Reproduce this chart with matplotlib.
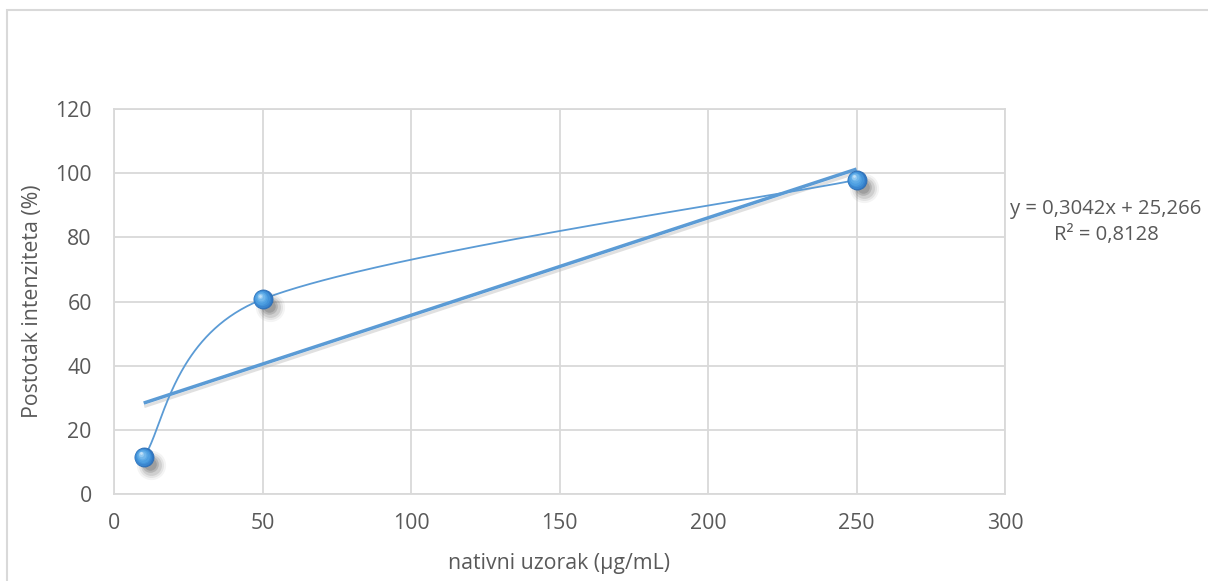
import numpy as np
import matplotlib
matplotlib.use("Agg")
import matplotlib.pyplot as plt
from matplotlib.transforms import offset_copy
from matplotlib.patches import Rectangle

# ---- data ----
x_vals = [10, 50, 250]
y_vals = [11.5, 60.7, 97.9]
x_ticks = [0, 50, 100, 150, 200, 250, 300]
y_ticks = [0, 20, 40, 60, 80, 100, 120]
x_label = "nativni uzorak (µg/mL)"
y_label = "Postotak intenziteta (%)"
eq_text = "y = 0,3042x + 25,266\nR² = 0,8128"

W, H = 1208, 581
fig = plt.figure(figsize=(W / 100, H / 100), dpi=100)
plt.rcParams['font.family'] = ['Open Sans', 'DejaVu Sans']
txt_color = '#595959'
grid_color = '#d9d9d9'
blue = '#5b9bd5'
fs = 15.3

# outer chart border (extends beyond the crop on right/bottom)
fig.patches.append(Rectangle((7 / W, -0.1), 1.2, (1 - 10 / H) + 0.1, transform=fig.transFigure,
                             fill=False, edgecolor=grid_color, lw=1.5, zorder=0))

ax = fig.add_axes([114 / W, 1 - 494 / H, (1005 - 114) / W, (494 - 109) / H])
ax.set_xlim(0, 300)
ax.set_ylim(0, 120)
ax.set_xticks(x_ticks)
ax.set_yticks(y_ticks)
ax.grid(True, color=grid_color, lw=1.3, zorder=0)
for s in ax.spines.values():
    s.set_color(grid_color)
    s.set_linewidth(1.3)
ax.tick_params(axis='y', length=0, labelsize=fs, labelcolor=txt_color, pad=16)
ax.tick_params(axis='x', length=0, labelsize=fs, labelcolor=txt_color, pad=14)
ax.set_xlabel(x_label, fontsize=fs, color=txt_color)
ax.set_ylabel(y_label, fontsize=fs, color=txt_color)
ax.xaxis.set_label_coords(0.5, (494 - 563) / 385)
ax.xaxis.label.set_va('center')
ax.yaxis.set_label_coords((33 - 114) / 891, 0.5)
ax.yaxis.label.set_va('center')
ax.yaxis.label.set_ha('center')

# ---- smoothed line (Excel-like bezier in display space) ----
fig.canvas.draw()
P = ax.transData.transform(np.column_stack([x_vals, y_vals]))
n = len(P)


def ctrl_offset(prev_pt, next_pt, seg_len):
    v = next_pt - prev_pt
    d = np.hypot(*v)
    if d == 0:
        return v * 0
    length = min(d / 6, seg_len / 2)
    return v / d * length


curve = []
t = np.linspace(0, 1, 120)[:, None]
for i in range(n - 1):
    p0 = P[i - 1] if i > 0 else P[i]
    p1 = P[i]
    p2 = P[i + 1]
    p3 = P[i + 2] if i + 2 < n else P[i + 1]
    seg_len = np.hypot(*(p2 - p1))
    c1 = p1 + ctrl_offset(p0, p2, seg_len)
    c2 = p2 - ctrl_offset(p1, p3, seg_len)
    seg = ((1 - t) ** 3) * p1 + 3 * ((1 - t) ** 2) * t * c1 + 3 * (1 - t) * t ** 2 * c2 + t ** 3 * p2
    curve.append(seg)
curve = np.vstack(curve)
curve_data = ax.transData.inverted().transform(curve)
ax.plot(curve_data[:, 0], curve_data[:, 1], color=blue, lw=1.3, zorder=3, solid_capstyle='round')

# ---- linear trendline ----
slope, intercept = np.polyfit(x_vals, y_vals, 1)
tx = np.array([min(x_vals), max(x_vals)])
ty = slope * tx + intercept
ax.plot(tx, ty, color='#bbbbbb', lw=2.2, alpha=0.45, zorder=2,
        transform=offset_copy(ax.transData, fig=fig, x=2, y=-3, units='dots'))
ax.plot(tx, ty, color=blue, lw=2.5, zorder=4, solid_capstyle='butt')

# ---- 3D sphere markers ----
for dx, dy, ms, a in [(7, -8, 21, 0.06), (7, -8, 18, 0.09), (7, -8, 15, 0.13), (6, -7, 12, 0.18), (6, -7, 9, 0.2)]:
    ax.plot(x_vals, y_vals, 'o', ms=ms, color='#444444', alpha=a, mec='none', zorder=5,
            transform=offset_copy(ax.transData, fig=fig, x=dx, y=dy, units='dots'))
ax.plot(x_vals, y_vals, 'o', ms=13.7, color='#3178c4', mec='#2c6db3', mew=0.6, zorder=6)
layers = [(12.5, '#3a86cf', -0.3, 0.4), (11.0, '#4393d9', -0.7, 0.9), (9.3, '#4e9fe1', -1.1, 1.4),
          (7.5, '#5daae6', -1.5, 1.9), (5.6, '#72b7eb', -2.0, 2.5), (3.8, '#92c9f1', -2.5, 3.1),
          (2.0, '#c2e1f8', -3.0, 3.7)]
for ms, c, dx, dy in layers:
    ax.plot(x_vals, y_vals, 'o', ms=ms, color=c, mec='none', zorder=7,
            transform=offset_copy(ax.transData, fig=fig, x=dx, y=dy, units='dots'))

# ---- equation text ----
fig.text(1106 / W, 1 - 222 / H, eq_text, ha='center', va='center', fontsize=14.6,
         color=txt_color, linespacing=1.4)

fig.savefig("out.png", dpi=100)
